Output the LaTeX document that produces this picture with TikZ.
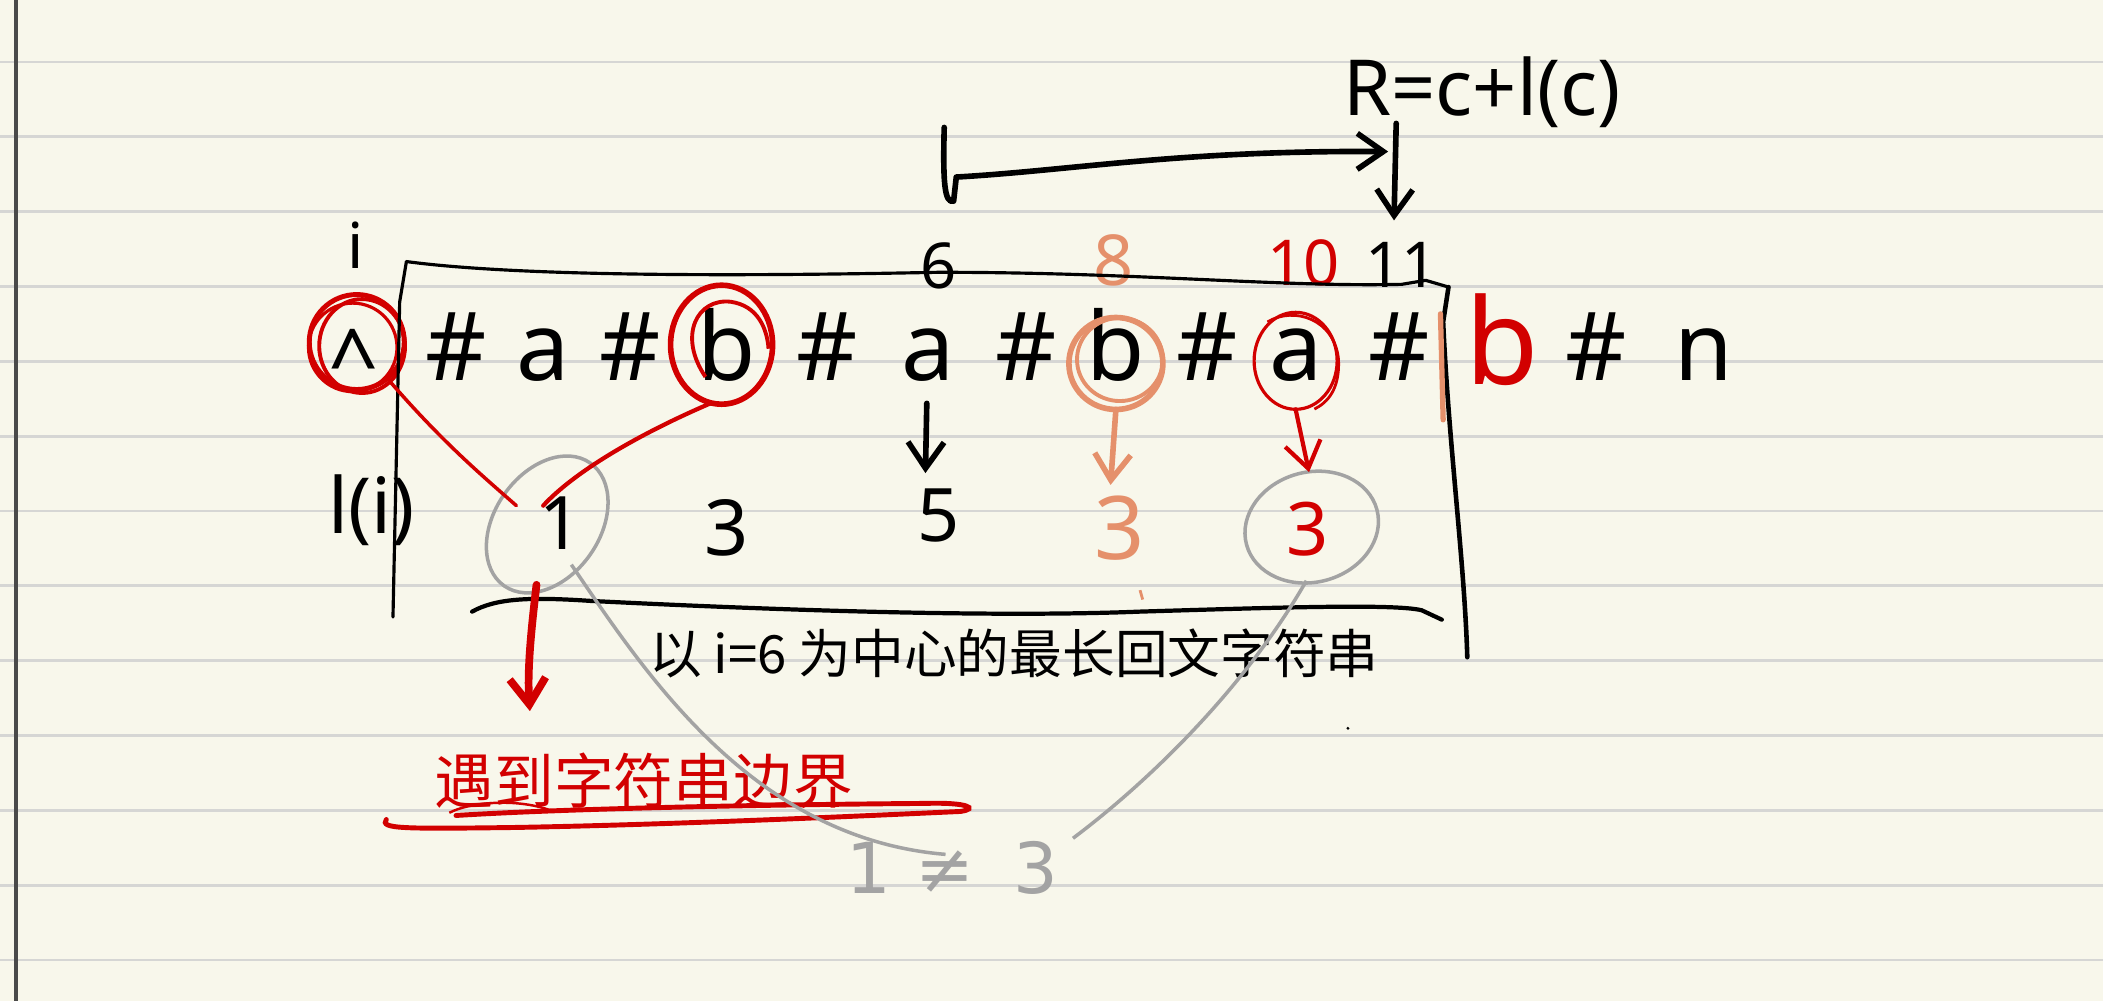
\documentclass[tikz,border=0pt]{standalone}
\usepackage{fontspec}
\setmainfont{Noto Sans}
\newfontfamily\cjk{Noto Sans CJK SC}
\newfontfamily\dejavu{DejaVu Sans}
\usetikzlibrary{arrows.meta,calc,shapes.geometric}
\definecolor{paper}{HTML}{F8F7EB}
\definecolor{rulecol}{HTML}{D6D6D4}
\definecolor{inkred}{HTML}{D20000}
\definecolor{inkorange}{HTML}{E5906B}
\definecolor{inkgray}{HTML}{A3A3A3}
\definecolor{margincol}{HTML}{4A4A4A}
\begin{document}
\begin{tikzpicture}[x=0.013412cm,y=-0.013412cm,
  every node/.style={inner sep=0pt, outer sep=0pt},
  ch/.style={anchor=base, font=\fontsize{27}{27}\selectfont},
  toplab/.style={anchor=base, font=\fontsize{18}{18}\selectfont},
  lval/.style={anchor=base, font=\fontsize{21}{21}\selectfont},
  inkline/.style={line width=1.6pt, line cap=round, line join=round},
  thinline/.style={line width=0.9pt, line cap=round, line join=round},
  hand/.style={-{Straight Barb[length=2.6mm,width=3.6mm]}},
  ring/.style={ellipse, line width=1.4pt},
]
% paper
\fill[paper] (0,0) rectangle (1568,746);
\useasboundingbox (0,0) rectangle (1568,746);
\foreach \k in {0,...,12}
  \draw[rulecol, line width=0.8pt] (0,{46.2+55.8*\k}) -- (1568,{46.2+55.8*\k});
\draw[margincol, line width=0.9pt] (11.9,0) -- (11.9,746);

% character row
\node[anchor=base, font=\fontsize{25}{25}\selectfont] (c0) at (264,293) {\textasciicircum};
\foreach \n/\x/\t in {1/340/\#, 2/405/a, 3/470/\#, 4/542/b, 5/617/\#, 6/692/a, 7/765/\#,
                      8/832/b, 9/900/\#, 10/966/a, 11/1043/\#, 13/1190/\#, 14/1270/n}
  \node[ch] (c\n) at (\x,284) {\t};
\node[anchor=base, inkred, font=\bfseries\fontsize{34}{34}\selectfont] (c12) at (1120,287) {b};

% top labels
\node[toplab] (ti) at (265,200) {i};
\node[toplab] (t6) at (700,215) {6};
\node[toplab, inkorange, font=\fontsize{20}{20}\selectfont] (t8) at (830,213) {8};
\node[toplab, inkred] (t10) at (972,213) {10};
\node[toplab] (t11) at (1045,214) {11};
\node[anchor=base, font=\fontsize{22}{22}\selectfont] (R) at (1105,86) {R=c+l(c)};

% l(i) row
\node[anchor=base, font=\fontsize{22}{22}\selectfont] (li) at (277,398) {l(i)};
\node[lval] (v1) at (418,410) {1};
\node[lval, font=\fontsize{22}{22}\selectfont] (v3) at (542,414) {3};
\node[lval] (v5) at (700,404) {5};
\node[lval, inkorange, font=\fontsize{25}{25}\selectfont] (v8) at (835,417) {3};
\node[lval, inkred] (v10) at (975,414) {3};

% circles
\node[ring, draw=inkred, minimum width=0.95cm, minimum height=0.95cm] (k0) at (266,255) {};
\draw[inkred, line width=1.1pt] ($(k0)+(4,3)$) ellipse[x radius=32, y radius=35];
\draw[inkred, line width=0.9pt] ($(k0)+(-3,4)$) ellipse[x radius=33, y radius=33];
\node[ring, draw=inkred, line width=1.6pt, minimum width=1.02cm, minimum height=1.19cm] (kb) at (538,257) {};
\draw[inkred, line width=1.1pt] (526,281) .. controls (505,250) and (520,222) .. (545,225) .. controls (565,228) and (572,245) .. (573,260);
\node[ring, draw=inkorange, line width=1.6pt, minimum width=0.94cm, minimum height=0.92cm] (ko) at (832,271) {};
\draw[inkorange, line width=1.1pt] ($(ko)+(3,-3)$) ellipse[x radius=32, y radius=31];
\node[ring, draw=inkred, line width=0.9pt, minimum width=0.83cm, minimum height=0.97cm] (ka) at (966,269) {};
\draw[inkred, line width=0.8pt] (945,240) .. controls (965,228) and (995,238) .. (998,268) .. controls (999,290) and (990,300) .. (980,305);

\node[ellipse, draw=inkgray, line width=1pt, minimum width=1.5cm, minimum height=1.05cm, rotate=55] (g1) at (408,391) {};
\node[ellipse, draw=inkgray, line width=1pt, minimum width=1.35cm, minimum height=1.1cm, rotate=15] (g3) at (978,393) {};

% box and brace
\draw[thinline] (303,195) .. controls (400,208) and (600,205) .. (700,203) .. controls (850,203) and (950,214) .. (1045,212) -- (1063,209) -- (1080,214);
\draw[thinline] (303,195) -- (298,225) -- (293,460);
\draw[line width=1.3pt, line cap=round] (1080,214) -- (1076,240) .. controls (1080,330) and (1092,420) .. (1094,490);
\draw[line width=1.2pt, line cap=round] (352,456) .. controls (370,446) and (395,445) .. (440,448) .. controls (600,456) and (750,460) .. (850,456) .. controls (950,453) and (1040,450) .. (1060,455) -- (1075,462);
\draw[inkorange, line width=1.5pt, line cap=round] (1074,234) -- (1076,313);

% R bracket arrow
\coordinate (b0) at (704,95);
\coordinate (b1) at (1035,113);
\draw[inkline, hand] (b0) .. controls (703,135) and (704,152) .. (711,150) -- (713,132) .. controls (800,127) and (880,112) .. (b1);
\coordinate (Rtop) at (1041,92);
\draw[inkline, hand, shorten >=16pt*0.3816] (Rtop) -- ($(t11.north)+(-6,0)$);

% connectors to l values
\coordinate (r1) at (385,377);
\coordinate (r2) at (405,377);
\draw[inkred, line width=1pt, line cap=round] (k0.-50) .. controls (330,330) and (360,355) .. (r1);
\draw[inkred, line width=1.2pt, line cap=round] (kb.-100) .. controls (480,322) and (430,350) .. (r2);
\draw[inkline, hand] ($(c6.south)+(-1,16)$) -- ($(v5.north)+(-10,-12)$);
\draw[inkorange, inkline, hand] (ko.south) -- ($(v8.north)+(-7,-8)$);
\draw[inkred, line width=1.2pt, line cap=round, hand] (ka.south) -- ($(g3.center)+(-2,-41)$);

% notes
\node[inkred, font=\cjk\fontsize{17}{17}\selectfont] (warn) at (480,582) {遇到字符串边界};
\draw[inkred, line width=2.2pt, line cap=round, hand] ($(g1.center)+(-8,45)$) .. controls (396,470) and (393,500) .. ($(warn.north west)+(71,-31)$);
\draw[inkred, line width=1.4pt, line cap=round] (288,611) .. controls (283,618) and (300,618) .. (380,617) .. controls (500,615) and (650,608) .. (716,605) .. controls (730,603) and (722,598) .. (690,599) .. controls (560,600) and (420,603) .. (340,608);
\draw[inkred, line width=0.7pt] (335,606) .. controls (350,598) and (385,595) .. (410,604);

\node[font=\cjk\fontsize{15}{15}\selectfont] (cap) at (756,487) {以 i=6 为中心的最长回文字符串};

\node[anchor=base, inkgray, font=\dejavu\fontsize{20}{20}\selectfont] (neq) at (710,666) {1\hspace{0.35em}≠\hspace{0.55em}3};
\coordinate (gEnd1) at (705,637);
\coordinate (gEnd2) at (800,625);
\draw[inkgray, line width=1pt] ($(g1.center)+(18,30)$) .. controls (480,500) and (560,625) .. (gEnd1);
\draw[inkgray, line width=1pt] ($(g3.center)+(-4,40)$) .. controls (930,510) and (860,580) .. (gEnd2);

% stray marks
\draw[inkorange, line width=0.8pt] (850,440) -- (852,447);
\fill (1005,543) circle[radius=1.2];
\end{tikzpicture}
\end{document}
